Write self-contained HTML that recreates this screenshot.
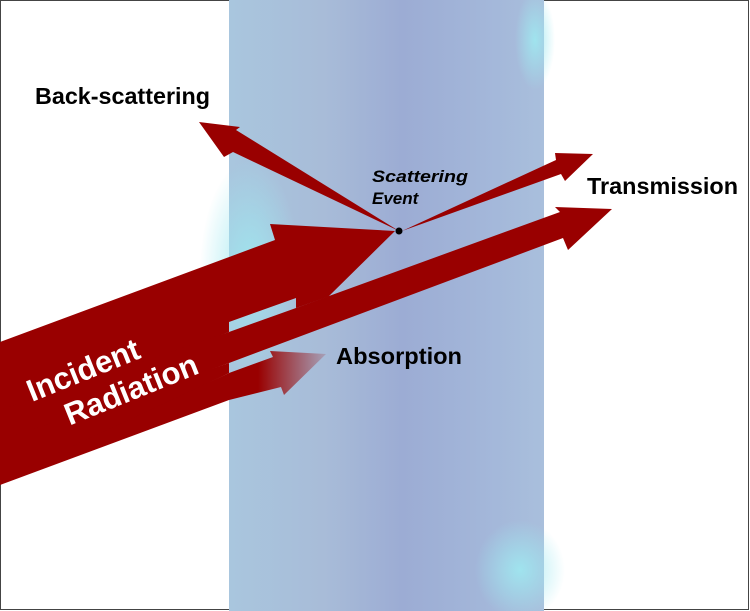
<!DOCTYPE html>
<html><head><meta charset="utf-8"><style>
html,body{margin:0;padding:0;background:#fff}
svg{display:block}
text{font-family:"Liberation Sans",sans-serif;font-weight:bold}
</style></head><body>
<svg width="750" height="611" viewBox="0 0 750 611">
<defs>
<linearGradient id="slabg" x1="0" y1="0" x2="1" y2="0">
<stop offset="0" stop-color="#a9c6de"/><stop offset="0.3" stop-color="#a8bcd8"/><stop offset="0.55" stop-color="#9cacd4"/><stop offset="0.85" stop-color="#a4b8da"/><stop offset="1" stop-color="#a9bfdc"/>
</linearGradient>
<radialGradient id="cy1" cx="0.5" cy="0.5" r="0.5"><stop offset="0" stop-color="#9fe8f0" stop-opacity="0.9"/><stop offset="1" stop-color="#9fe8f0" stop-opacity="0"/></radialGradient>
<linearGradient id="absg" x1="229" y1="0" x2="326" y2="0" gradientUnits="userSpaceOnUse">
<stop offset="0" stop-color="#990000"/><stop offset="0.3" stop-color="#990000"/><stop offset="1" stop-color="#990000" stop-opacity="0.15"/>
</linearGradient>
</defs>
<rect x="0.5" y="0.5" width="748" height="609" fill="#fff" stroke="#444"/>
<g>
<rect x="229" y="0" width="315" height="611" fill="url(#slabg)"/>
<ellipse cx="250" cy="270" rx="50" ry="110" fill="url(#cy1)"/>
<ellipse cx="520" cy="570" rx="45" ry="50" fill="url(#cy1)"/>
<ellipse cx="535" cy="40" rx="20" ry="50" fill="url(#cy1)"/>
</g>
<g fill="#990000">
<path d="M0,342 L275,240 L270,224 L395,231 L328,297 L330,296 L296,308 L296,298 L229,322 L229,332 L0,420 Z"/>
<path d="M0,410 L229,332 L296,308 L560,212 L555,207 L612,209 L568,250 L563,238 L229,363 L0,445 Z"/>
<path d="M0,440 L229,363 L229,373 L0,485 Z"/>
<path d="M0,480 L229,373 L229,400 L0,485 Z"/>
<path fill="url(#absg)" d="M229,373 L273,357 L270,351 L326,354 L284,395 L281,387 L229,400 Z"/>
<path d="M399,231 L236,130 L240,127 L199,122 L224,157 L233,152 Z"/>
<path d="M402,231 L556,160 L555,153 L593,154 L565,181 L561,174 Z"/>
</g>
<circle cx="399" cy="231" r="3.5" fill="#000"/>
<text x="35" y="104" font-size="23" textLength="175" lengthAdjust="spacingAndGlyphs">Back-scattering</text>
<text x="587" y="194" font-size="23" textLength="151" lengthAdjust="spacingAndGlyphs">Transmission</text>
<text x="336" y="364" font-size="23" textLength="126" lengthAdjust="spacingAndGlyphs">Absorption</text>
<text x="372" y="182" font-size="17" font-style="italic"><tspan x="372" textLength="96" lengthAdjust="spacingAndGlyphs">Scattering</tspan><tspan x="372" dy="22">Event</tspan></text>
<text transform="translate(32,402) rotate(-22)" font-size="31" fill="#fff"><tspan x="0" y="0">Incident</tspan><tspan x="26" y="36">Radiation</tspan></text>
</svg>
</body></html>
